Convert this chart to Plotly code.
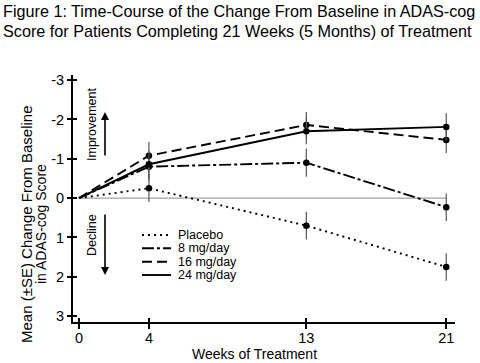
import plotly.graph_objects as go

weeks = [0, 4, 13, 21]
tick_weeks = [0, 4, 13, 21]
y_ticks = [-3, -2, -1, 0, 1, 2, 3]
y_tick_text = ["-3", "-2", "-1", "0", "1", "2", "3"]

series = ["Placebo", "8 mg/day", "16 mg/day", "24 mg/day"]
placebo = [0, -0.25, 0.70, 1.75]
mg8 = [0, -0.80, -0.90, 0.23]
mg16 = [0, -1.08, -1.86, -1.48]
mg24 = [0, -0.86, -1.70, -1.81]
values = [placebo, mg8, mg16, mg24]

se_placebo = [0.35, 0.35, 0.35]
se_mg8 = [0.35, 0.36, 0.35]
se_mg16 = [0.35, 0.33, 0.33]
se_mg24 = [0.33, 0.33, 0.35]
ses = [se_placebo, se_mg8, se_mg16, se_mg24]

title_lines = ["Figure 1: Time-Course of the Change From Baseline in ADAS-cog",
               "Score for Patients Completing 21 Weeks (5 Months) of Treatment"]
y_title_lines = ["Mean (±SE) Change From Baseline", "in ADAS-cog Score"]
x_title = "Weeks of Treatment"

dashes = ["2px,4px", "12px,3px,3px,3px", "10px,5px", "solid"]

FONT = "Liberation Sans, Arial, sans-serif"

# plot area in pixels
L, R, T, B = 73, 455, 75, 322
W, H = R - L, B - T
def px(x):
    return (x - L) / W
def py(y):
    return (B - y) / H

def label(fig, text, x, y, size, angle=0, xanchor="center"):
    fig.add_annotation(text=text, xref="paper", yref="paper", x=px(x), y=py(y),
                       xanchor=xanchor, yanchor="middle", textangle=angle,
                       showarrow=False, font=dict(family=FONT, size=size, color="black"))

fig = go.Figure()
for name, vals, dash in zip(series, values, dashes):
    fig.add_trace(go.Scatter(x=weeks, y=vals, mode="lines", name=name,
                             line=dict(color="black", width=1.9, dash=dash),
                             showlegend=False))
for name, vals, se in zip(series, values, ses):
    fig.add_trace(go.Scatter(x=weeks[1:], y=vals[1:], mode="markers", name=name,
                             marker=dict(color="black", size=6.5),
                             error_y=dict(type="data", array=se, color="#555",
                                          thickness=1.2, width=0),
                             showlegend=False))
# dummy trace for the overlay axes (inside ticks)
fig.add_trace(go.Scatter(x=[], y=[], xaxis="x2", yaxis="y2", showlegend=False))

# zero reference line
fig.add_shape(type="line", xref="x", yref="y", x0=weeks[0], x1=weeks[-1], y0=0, y1=0,
              line=dict(color="#888", width=1), layer="below")

# manual legend
leg_y = [235, 248.3, 261.7, 275]
for name, dash, yy in zip(series, dashes, leg_y):
    fig.add_shape(type="line", xref="paper", yref="paper", x0=px(142), x1=px(171),
                  y0=py(yy), y1=py(yy), line=dict(color="black", width=1.9, dash=dash))
    label(fig, name, 176, yy, 12.5, xanchor="left")

# Improvement / Decline
label(fig, "Improvement", 92, 125, 12.5, angle=-90)
label(fig, "Decline", 92, 235, 12.5, angle=-90)
fig.add_annotation(text="", xref="paper", yref="paper", x=px(105), y=py(112),
                   axref="pixel", ayref="pixel", ax=0, ay=45, showarrow=True,
                   arrowhead=2, arrowsize=1, arrowwidth=1.6, arrowcolor="black")
fig.add_annotation(text="", xref="paper", yref="paper", x=px(105), y=py(275),
                   axref="pixel", ayref="pixel", ax=0, ay=-62, showarrow=True,
                   arrowhead=2, arrowsize=1, arrowwidth=1.6, arrowcolor="black")

# axis titles
for txt, xx, fs in zip(y_title_lines, [26, 41], [15, 14]):
    label(fig, txt, xx, 224, fs, angle=-90)
label(fig, x_title, 254, 354, 14)

# chart title (two lines)
for txt, yy in zip(title_lines, [11, 31]):
    label(fig, txt, 1, yy, 16.2, xanchor="left")

xr = [-0.34, 21.5]
yr = [3.15, -3.13]
fig.update_layout(
    width=480, height=363,
    margin=dict(l=L, r=480 - R, t=T, b=363 - B, pad=0),
    paper_bgcolor="white", plot_bgcolor="white",
    font=dict(family=FONT, size=14, color="black"),
    xaxis=dict(range=xr, tickvals=tick_weeks, showgrid=False, zeroline=False,
               showline=True, linecolor="black", linewidth=2,
               ticks="outside", ticklen=5, tickwidth=1.5, tickcolor="black",
               tickfont=dict(size=14.5), ticklabelstandoff=-3),
    yaxis=dict(range=yr, tickvals=y_ticks, ticktext=y_tick_text, showgrid=False,
               zeroline=False, showline=True, linecolor="black", linewidth=2,
               ticks="outside", ticklen=4, tickwidth=1.5, tickcolor="black",
               tickfont=dict(size=14.5)),
    xaxis2=dict(range=xr, tickvals=tick_weeks, overlaying="x", showgrid=False,
                zeroline=False, showline=False, showticklabels=False,
                ticks="inside", ticklen=4, tickwidth=1.5, tickcolor="black"),
    yaxis2=dict(range=yr, tickvals=y_ticks, overlaying="y", showgrid=False,
                zeroline=False, showline=False, showticklabels=False,
                ticks="inside", ticklen=4, tickwidth=1.5, tickcolor="black"),
    showlegend=False,
)

fig.write_html("out.html", config={"displayModeBar": False},
               post_script="document.body.style.margin='0';document.body.style.padding='0';")
